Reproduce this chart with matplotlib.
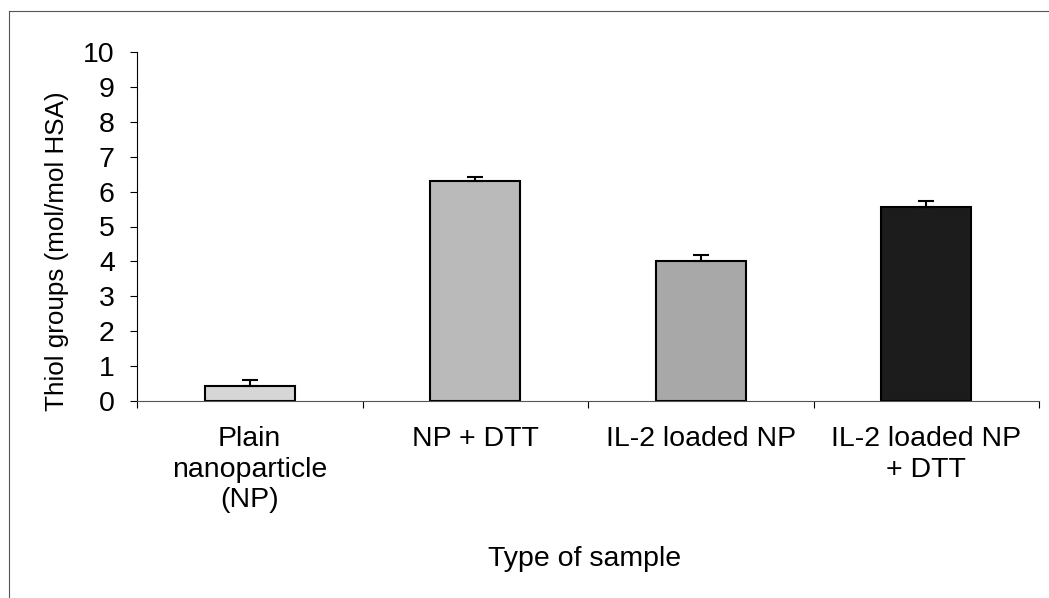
import matplotlib
matplotlib.use("Agg")
import matplotlib.pyplot as plt
from matplotlib.lines import Line2D

plt.rcParams['font.family'] = ['Liberation Sans', 'DejaVu Sans']

categories = ["Plain\nnanoparticle\n(NP)", "NP + DTT", "IL-2 loaded NP", "IL-2 loaded NP\n+ DTT"]
values = [0.42, 6.30, 4.02, 5.55]
errors = [0.18, 0.12, 0.16, 0.18]
colors = ["#d6d6d6", "#bababa", "#a8a8a8", "#1c1c1c"]
yticks = list(range(0, 11))

FS = 20.5

fig = plt.figure(figsize=(10.49, 5.98), dpi=100)
ax = fig.add_axes([137/1049, 1-401/598, (1039-137)/1049, (401-52)/598])

x = list(range(len(categories)))
ax.bar(x, values, width=0.4, color=colors, edgecolor="black", linewidth=1.5, zorder=2)
ax.errorbar(x, values, yerr=[[0]*len(errors), errors], fmt="none", ecolor="black",
            elinewidth=1.5, capsize=6, capthick=1.5, zorder=3)

ax.set_xlim(-0.5, len(categories) - 0.5)
ax.set_ylim(0, 10)
ax.set_yticks(yticks)
ax.set_yticklabels([str(t) for t in yticks], fontsize=FS)
ax.set_xticks(x)
ax.set_xticklabels(categories, fontsize=FS, linespacing=1.23, va="top")
ax.tick_params(axis="x", length=0, pad=18)
ax.tick_params(axis="y", length=5, width=0.8, pad=11, direction="out")
# boundary ticks on x axis
ax.set_xticks([i - 0.5 for i in range(len(categories) + 1)], minor=True)
ax.tick_params(axis="x", which="minor", length=5, width=0.8, direction="out")

for s in ["top", "right"]:
    ax.spines[s].set_visible(False)
ax.spines["left"].set_linewidth(0.8)
ax.spines["bottom"].set_linewidth(0.8)
ax.spines["bottom"].set_color("#555555")

ax.set_ylabel("Thiol groups (mol/mol HSA)", fontsize=18.7)
ax.yaxis.set_label_coords(-0.075, (401-251)/349)
fig.text(585/1049, 1-559/598, "Type of sample", fontsize=FS, ha="center", va="center")

# outer frame (left and top edges)
fig.add_artist(Line2D([9/1049, 9/1049], [0, 1-11/598], transform=fig.transFigure,
                      color="#555555", linewidth=0.8))
fig.add_artist(Line2D([9/1049, 1], [1-11/598, 1-11/598], transform=fig.transFigure,
                      color="#555555", linewidth=0.8))

fig.savefig("out.png", dpi=100)
